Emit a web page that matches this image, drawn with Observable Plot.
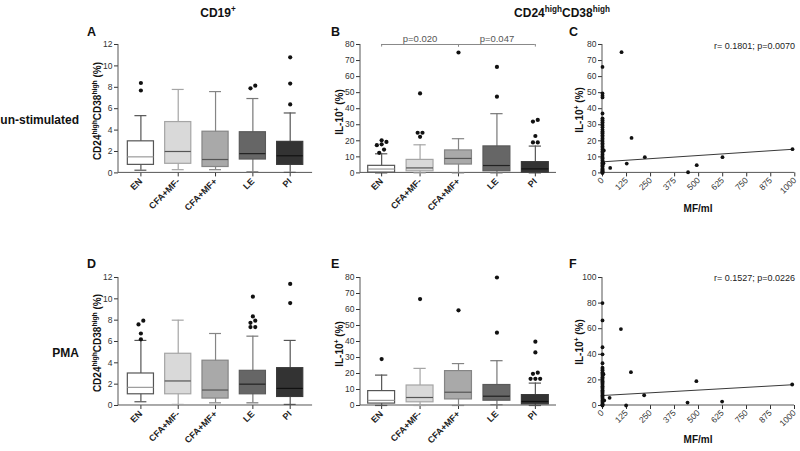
<!DOCTYPE html>
<html><head><meta charset="utf-8">
<script src="https://cdn.jsdelivr.net/npm/d3@7"></script>
<script src="https://cdn.jsdelivr.net/npm/@observablehq/plot@0.6"></script>
<style>
html,body{margin:0;padding:0;background:#fff;}
#fig{position:relative;width:800px;height:451px;overflow:hidden;background:#fff;}
#fig svg{position:absolute;overflow:visible;}
</style></head><body><div id="fig"></div>
<script>
// ---------------- DATA ----------------
const groups = ["EN", "CFA+MF-", "CFA+MF+", "LE", "PI"];

// A: CD19+ CD24hiCD38hi (%), un-stimulated
const aLow = [0.25, 0.3, 0.3, 0.1, 0.05];
const aQ1 = [0.75, 0.85, 0.55, 1.25, 0.75];
const aMed = [1.5, 2.0, 1.25, 1.8, 1.6];
const aQ3 = [2.95, 4.75, 3.85, 3.8, 2.9];
const aHigh = [5.35, 7.8, 7.6, 6.95, 5.6];
const aOut = [[7.7, 8.4], [], [], [7.9, 8.15], [6.4, 8.35, 10.8]];

// B: IL-10+ (%), un-stimulated
const bLow = [0, 0, 0, 0, 0];
const bQ1 = [0.2, 1.0, 5.2, 1.0, 0.2];
const bMed = [2.4, 3.1, 9.0, 4.6, 2.5];
const bQ3 = [4.4, 8.1, 14.0, 16.5, 6.7];
const bHigh = [11.9, 17.5, 21.3, 36.9, 16.7];
const bOut = [[12.5, 14.5, 17.3, 17.8, 19.3, 20.3], [22.5, 25, 25, 49.5], [75], [47.5, 66], [19, 19, 23, 32, 33]];
const bBrackets = [
  {from: "EN", to: "CFA+MF+", mid: "CFA+MF-", label: "p=0.020"},
  {from: "CFA+MF+", to: "PI", mid: "LE", label: "p=0.047"}
];

// C: IL-10+ (%) vs MF/ml, un-stimulated
const cX = [99, 151, 126, 40, 220, 445, 490, 624, 988, 7, 5];
const cY = [75.2, 21.8, 5.8, 3.1, 9.8, 0.4, 4.8, 9.8, 14.8, 14, 6];
const cZeroY = [66, 49.5, 48, 47, 37, 34, 33, 32.5, 31.5, 30.5, 29.5, 28.5, 27, 26, 25, 24.5, 23.5, 22.5, 21.5, 20.5, 19.5, 18.5, 17.5, 16.5, 15.5, 14.5, 13.5, 12.5, 11.5, 10.5, 9.5, 9, 8, 7.5, 6.5, 6, 5, 4.5, 4, 3, 2.5, 2, 1.5, 1, 0.5, 0.2, 0];
const cReg = {intercept: 6.9, slope: 0.0079};
const cNote = "r= 0.1801; p=0.0070";

// D: CD19+ CD24hiCD38hi (%), PMA
const dLow = [0.35, 0.1, 0.25, 0.25, 0.1];
const dQ1 = [1.05, 1.05, 0.65, 1.05, 0.8];
const dMed = [1.7, 2.3, 1.45, 2.0, 1.6];
const dQ3 = [3.0, 4.85, 4.2, 3.25, 3.5];
const dHigh = [6.1, 8.0, 6.75, 6.5, 6.1];
const dOut = [[6.2, 6.75, 7.6, 7.95], [], [], [7.35, 7.35, 7.75, 7.95, 8.35, 10.2], [9.6, 11.4]];

// E: IL-10+ (%), PMA
const eLow = [0, 0, 0, 0.5, 0];
const eQ1 = [1.2, 2.0, 3.8, 3.0, 0.7];
const eMed = [3.2, 5.0, 8.3, 5.8, 2.5];
const eQ3 = [9.0, 12.5, 21.5, 12.8, 6.5];
const eHigh = [19.0, 23.2, 26.2, 28.0, 14.0];
const eOut = [[29], [66.5], [59.5], [45.5, 80], [16.7, 16.7, 16.7, 19.8, 20.5, 33.2, 39.9]];

// F: IL-10+ (%) vs MF/ml, PMA
const fX = [96, 148, 37, 123, 217, 443, 489, 623, 988, 5, 9];
const fY = [59.7, 26, 6, 0, 8, 2.3, 19, 3.1, 16.4, 24.5, 4];
const fZeroY = [80, 66.5, 45.5, 40, 33, 29.5, 28.5, 27.5, 26, 25, 24, 23, 22, 21, 20, 19, 18, 17, 16, 15, 14, 13, 12, 11, 10, 9, 8, 7, 6, 5, 4, 3, 2, 1, 0.5, 0];
const fReg = {intercept: 7.8, slope: 0.0085};
const fNote = "r= 0.1527; p=0.0226";

const mfTicks = [0, 125, 250, 375, 500, 625, 750, 875, 1000];

// ---------------- STYLE ----------------
const FONT = '"Liberation Sans", Arial, Helvetica, sans-serif';
const boxFill = ["#ffffff", "#d9d9d9", "#a9a9a9", "#666666", "#333333"];
const boxStroke = ["#555555", "#a5a5a5", "#858585", "#5a5a5a", "#3a3a3a"];
const whiskerStroke = ["#555555", "#a5a5a5", "#858585", "#777777", "#555555"];
const medStroke = ["#9a9a9a", "#555555", "#555555", "#222222", "#111111"];

const fig = d3.select("#fig");

function axisLines(index, scales, values, dim) {
  const g = d3.create("svg:g").attr("stroke", "#555").attr("stroke-width", 1);
  const x0 = dim.marginLeft, x1 = dim.width - dim.marginRight;
  const y0 = dim.marginTop, y1 = dim.height - dim.marginBottom;
  g.append("line").attr("x1", x0).attr("x2", x0).attr("y1", y0).attr("y2", y1);
  g.append("line").attr("x1", x0).attr("x2", x1).attr("y1", y1).attr("y2", y1);
  return g.node();
}

function spreadOutliers(outliers, pxPerUnit, stepPx) {
  const res = [];
  outliers.forEach((vals, i) => {
    const sorted = [...vals].sort((a, b) => a - b);
    let cl = [];
    const flush = () => {
      const n = cl.length;
      cl.forEach((v, k) => res.push({i, v, off: (k - (n - 1) / 2) * 4.8 / stepPx}));
      cl = [];
    };
    for (const v of sorted) {
      if (cl.length && (v - cl[0]) * pxPerUnit >= 3.8) flush();
      cl.push(v);
    }
    if (cl.length) flush();
  });
  return res;
}

const M = {l: 60, t: 22, r: 12, b: 62};

function place(svg, frame) {
  svg.style.position = "absolute";
  svg.style.left = (frame.x1 - M.l) + "px";
  svg.style.top = (frame.y1 - M.t) + "px";
  fig.node().appendChild(svg);
}

function boxPanel({frame, yMax, yStep, low, q1, med, q3, high, outliers, pad, extra = () => []}) {
  const fw = frame.x2 - frame.x1, fh = frame.y2 - frame.y1;
  const stepPx = fw / (groups.length - 1 + 2 * pad);
  const rows = groups.map((g, i) => ({i, low: low[i], q1: q1[i], med: med[i], q3: q3[i], high: high[i]}));
  const outs = spreadOutliers(outliers, fh / yMax, stepPx);
  const half = 0.35, cap = 0.16;
  const svg = Plot.plot({
    width: fw + M.l + M.r, height: fh + M.t + M.b,
    marginLeft: M.l, marginRight: M.r, marginTop: M.t, marginBottom: M.b,
    style: {background: "none", fontFamily: FONT, fontSize: "8.5px", color: "#333", overflow: "visible"},
    color: {type: "identity"},
    x: {type: "linear", domain: [-pad, groups.length - 1 + pad]},
    y: {domain: [0, yMax]},
    marks: [
      Plot.axisY({ticks: d3.range(0, yMax + 1e-9, yStep), tickSize: 4, tickPadding: 2, label: null, tickFormat: d => String(d)}),
      Plot.axisX({ticks: groups.map((g, i) => i), tickFormat: i => groups[i], tickRotate: -45, tickSize: 4, tickPadding: 3, label: null, fontSize: 9, fontWeight: "bold", fill: "#222"}),
      axisLines,
      Plot.ruleX(rows, {x: "i", y1: "low", y2: "high", stroke: d => whiskerStroke[d.i], strokeWidth: 1.2}),
      Plot.ruleY(rows, {y: "low", x1: d => d.i - cap, x2: d => d.i + cap, stroke: d => whiskerStroke[d.i], strokeWidth: 1.2}),
      Plot.ruleY(rows, {y: "high", x1: d => d.i - cap, x2: d => d.i + cap, stroke: d => whiskerStroke[d.i], strokeWidth: 1.2}),
      Plot.rect(rows, {x1: d => d.i - half, x2: d => d.i + half, y1: "q1", y2: "q3", fill: d => boxFill[d.i], stroke: d => boxStroke[d.i], strokeWidth: 1.2}),
      Plot.ruleY(rows, {y: "med", x1: d => d.i - half, x2: d => d.i + half, stroke: d => medStroke[d.i], strokeWidth: 1.2}),
      Plot.dot(outs, {x: d => d.i + d.off, y: "v", r: 2.1, fill: "#111", stroke: "none"}),
      ...extra(yMax)
    ]
  });
  place(svg, frame);
}

function scatterPanel({frame, yMax, yStep, xs, ys, zeroY, reg}) {
  const fw = frame.x2 - frame.x1, fh = frame.y2 - frame.y1;
  const pts = xs.map((x, k) => ({x, y: ys[k]})).concat(zeroY.map(y => ({x: 0, y})));
  const svg = Plot.plot({
    width: fw + M.l + M.r, height: fh + M.t + M.b,
    marginLeft: M.l, marginRight: M.r, marginTop: M.t, marginBottom: M.b,
    style: {background: "none", fontFamily: FONT, fontSize: "8.5px", color: "#333", overflow: "visible"},
    x: {type: "linear", domain: [0, 1000]},
    y: {domain: [0, yMax]},
    marks: [
      Plot.axisY({ticks: d3.range(0, yMax + 1e-9, yStep), tickSize: 4, tickPadding: 2, label: null, tickFormat: d => String(d)}),
      Plot.axisX({ticks: mfTicks, tickFormat: d => String(d), tickRotate: -45, tickSize: 4, tickPadding: 2, label: null, fontSize: 8.5, fill: "#333"}),
      axisLines,
      Plot.line(d3.extent(pts, d => d.x), {x: d => d, y: d => reg.intercept + reg.slope * d, stroke: "#222", strokeWidth: 0.9}),
      Plot.dot(pts, {x: "x", y: "y", r: 1.9, fill: "#111", stroke: "none"})
    ]
  });
  place(svg, frame);
}

const bracketMarks = (yMax) => {
  const idx = c => groups.indexOf(c);
  const ends = [];
  bBrackets.forEach(b => { ends.push(b.from, b.to); });
  return [
    Plot.ruleY(bBrackets, {y: yMax, x1: d => idx(d.from), x2: d => idx(d.to), stroke: "#888", strokeWidth: 1}),
    Plot.ruleX(ends, {x: d => idx(d), y1: yMax * 0.98, y2: yMax, stroke: "#888", strokeWidth: 1}),
    Plot.text(bBrackets, {x: d => idx(d.mid), y: yMax, text: "label", dy: -6, fontSize: 9.5, fill: "#555"})
  ];
};

const fA = {x1: 118.3, x2: 312.4, y1: 44.3, y2: 172.7};
const fB = {x1: 360, x2: 556, y1: 44.3, y2: 172.7};
const fC = {x1: 601.7, x2: 794, y1: 44.3, y2: 172.7};
const fD = {x1: 118.3, x2: 312.4, y1: 276.5, y2: 404.5};
const fE = {x1: 360, x2: 556, y1: 276.5, y2: 404.5};
const fF = {x1: 602, x2: 794, y1: 276.5, y2: 404.5};

boxPanel({frame: fA, yMax: 12, yStep: 2, low: aLow, q1: aQ1, med: aMed, q3: aQ3, high: aHigh, outliers: aOut, pad: 0.6});
boxPanel({frame: fB, yMax: 80, yStep: 10, low: bLow, q1: bQ1, med: bMed, q3: bQ3, high: bHigh, outliers: bOut, pad: 0.55, extra: bracketMarks});
scatterPanel({frame: fC, yMax: 80, yStep: 10, xs: cX, ys: cY, zeroY: cZeroY, reg: cReg});
boxPanel({frame: fD, yMax: 12, yStep: 2, low: dLow, q1: dQ1, med: dMed, q3: dQ3, high: dHigh, outliers: dOut, pad: 0.6});
boxPanel({frame: fE, yMax: 80, yStep: 10, low: eLow, q1: eQ1, med: eMed, q3: eQ3, high: eHigh, outliers: eOut, pad: 0.55});
scatterPanel({frame: fF, yMax: 100, yStep: 20, xs: fX, ys: fY, zeroY: fZeroY, reg: fReg});

// ---------------- TEXT OVERLAY ----------------
const ov = fig.append("svg").attr("width", 800).attr("height", 451)
  .style("left", "0px").style("top", "0px")
  .attr("font-family", FONT).attr("fill", "#111");

function rich(sel, parts, size) {
  let up = false;
  parts.forEach(p => {
    const t = sel.append("tspan").text(p[0]);
    if (p[1]) { t.attr("font-size", size * 0.68).attr("dy", up ? 0 : -size * 0.42); up = true; }
    else { t.attr("font-size", size); if (up) t.attr("dy", size * 0.42); up = false; }
  });
}

function label(x, y, parts, {size = 12, anchor = "middle", weight = "bold", rotate = 0, fill = "#111"} = {}) {
  const t = ov.append("text").attr("text-anchor", anchor).attr("font-weight", weight).attr("fill", fill)
    .attr("font-size", size)
    .attr("transform", `translate(${x},${y})` + (rotate ? ` rotate(${rotate})` : ""));
  rich(t, parts, size);
}

const cdLabel = [["CD24"], ["high", 1], ["CD38"], ["high", 1], [" (%)"]];
const ilLabel = [["IL-10"], ["+", 1], [" (%)"]];

label(218, 17, [["CD19"], ["+", 1]], {size: 12});
label(562, 17, [["CD24"], ["high", 1], ["CD38"], ["high", 1]], {size: 12});

[["A", 87, 36], ["B", 331, 36], ["C", 569, 36], ["D", 87, 268], ["E", 331, 268], ["F", 569, 268]]
  .forEach(([t, x, y]) => label(x, y, [[t]], {size: 12.5, anchor: "start"}));

label(79, 124, [["un-stimulated"]], {size: 12, anchor: "end"});
label(79, 357, [["PMA"]], {size: 12, anchor: "end"});

label(101, 111, cdLabel, {size: 10, rotate: -90});
label(101, 343, cdLabel, {size: 10, rotate: -90});
label(343, 112, ilLabel, {size: 10, rotate: -90});
label(343, 344, ilLabel, {size: 10, rotate: -90});
label(583, 110, ilLabel, {size: 10, rotate: -90});
label(583, 342, ilLabel, {size: 10, rotate: -90});

label(698, 212, [["MF/ml"]], {size: 10});
label(698, 443, [["MF/ml"]], {size: 10});

label(795, 49, [[cNote]], {size: 9, anchor: "end", weight: "normal", fill: "#222"});
label(795, 281, [[fNote]], {size: 9, anchor: "end", weight: "normal", fill: "#222"});
</script></body></html>
